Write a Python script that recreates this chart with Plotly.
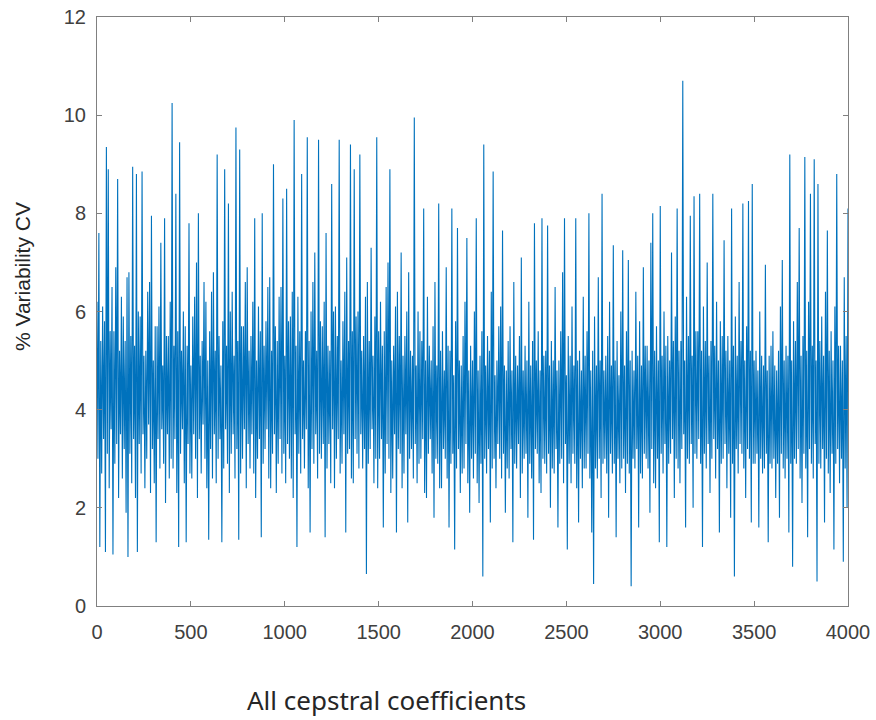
import plotly.graph_objects as go

# % Variability CV, split into the alternating
# upper swings (coefficients 0, 10, 20, ... 4000) and lower swings
# (coefficients 5, 15, 25, ... 3995). Rows of 20 = 200 coefficients.
cv_upper = [
    6.2, 7.6, 5.4, 6.1, 5.8, 9.35, 8.9, 5.6, 6.5, 5.6, 6.9, 8.7, 5.2, 6.3, 5.9, 5.4, 6.7, 6.8, 5.5, 8.95,
    5.3, 8.8, 6.0, 5.9, 8.85, 5.1, 5.2, 6.4, 6.6, 7.95, 5.0, 5.7, 5.7, 6.1, 7.4, 4.9, 7.9, 5.5, 5.5, 6.2,
    10.25, 5.3, 8.4, 5.6, 9.45, 5.2, 6.0, 5.7, 5.3, 7.8, 4.9, 5.9, 6.3, 7.0, 8.0, 5.1, 5.4, 6.6, 6.2, 5.0,
    5.6, 6.4, 6.8, 5.2, 9.2, 5.5, 4.9, 5.8, 8.9, 5.3, 8.2, 6.0, 6.4, 5.1, 9.75, 5.4, 9.3, 5.7, 5.7, 6.6,
    6.9, 5.2, 5.5, 6.2, 7.9, 5.0, 6.1, 5.6, 8.0, 5.3, 5.8, 6.5, 6.7, 5.2, 9.0, 5.7, 5.4, 6.3, 6.5, 8.3,
    5.1, 8.5, 5.8, 5.9, 6.4, 9.9, 5.3, 6.3, 5.6, 8.8, 5.0, 5.6, 9.55, 5.4, 6.0, 6.6, 7.2, 5.2, 9.5, 5.8,
    5.7, 6.2, 7.6, 5.3, 5.2, 8.6, 6.0, 6.1, 5.5, 9.5, 5.0, 5.8, 6.4, 7.1, 5.4, 9.4, 5.6, 8.9, 5.9, 6.0,
    9.2, 5.2, 5.5, 6.3, 6.6, 5.4, 7.3, 5.1, 5.9, 9.55, 5.6, 6.2, 5.3, 5.6, 6.5, 7.0, 8.9, 5.0, 5.3, 6.1,
    6.4, 5.5, 7.2, 5.1, 5.5, 6.0, 6.8, 5.2, 5.1, 9.95, 4.9, 6.0, 5.6, 5.4, 8.1, 5.0, 6.3, 5.3, 5.0, 5.7,
    6.6, 4.9, 8.2, 5.2, 5.6, 4.8, 6.9, 5.3, 5.2, 8.1, 4.7, 5.8, 7.7, 5.0, 4.9, 5.5, 6.2, 7.5, 4.8, 5.3,
    5.0, 6.0, 7.9, 4.8, 5.1, 5.6, 9.4, 4.9, 5.5, 5.2, 6.4, 8.85, 4.7, 5.0, 5.7, 6.1, 7.65, 4.9, 4.8, 5.4,
    5.7, 4.8, 6.6, 5.1, 4.9, 5.5, 7.1, 4.8, 5.3, 5.0, 6.2, 4.9, 5.4, 7.8, 5.0, 5.6, 4.8, 7.9, 5.1, 5.2,
    7.75, 4.9, 5.4, 5.0, 6.5, 4.8, 5.0, 5.6, 6.8, 7.9, 4.7, 5.5, 5.1, 6.1, 4.9, 7.9, 5.0, 5.2, 4.8, 6.3,
    5.1, 5.6, 8.0, 4.8, 5.2, 5.9, 4.9, 6.7, 5.0, 8.4, 4.8, 5.1, 5.5, 6.2, 4.9, 7.35, 5.0, 5.4, 4.7, 6.0,
    7.25, 4.9, 5.6, 7.05, 5.0, 5.2, 4.8, 6.4, 5.1, 5.8, 4.9, 6.9, 5.3, 5.3, 5.0, 7.4, 8.0, 5.2, 5.7, 5.0,
    8.15, 5.1, 6.0, 5.3, 5.5, 5.0, 7.2, 5.4, 5.9, 8.1, 5.2, 5.4, 10.7, 5.0, 6.3, 5.5, 7.95, 5.1, 8.35, 5.6,
    5.6, 8.4, 5.2, 6.1, 5.4, 7.0, 5.1, 5.4, 8.4, 5.3, 6.2, 5.0, 5.8, 5.5, 7.45, 5.2, 5.5, 5.0, 8.1, 5.3,
    5.9, 5.1, 6.6, 5.4, 8.2, 5.0, 5.7, 8.25, 5.2, 8.6, 5.0, 5.2, 4.8, 6.0, 5.1, 4.9, 6.95, 4.8, 5.1, 5.3,
    5.6, 4.9, 4.8, 5.2, 6.1, 7.05, 5.0, 5.3, 5.1, 9.2, 5.0, 5.8, 5.4, 6.6, 7.7, 5.1, 5.5, 9.15, 5.2, 6.2,
    8.4, 5.3, 9.1, 5.0, 8.6, 5.4, 5.9, 5.1, 6.4, 7.65, 5.2, 5.6, 5.0, 6.1, 8.8, 5.3, 5.3, 5.0, 6.7, 5.5,
    8.1,
]

cv_lower = [
    3.0, 1.2, 2.7, 3.4, 1.1, 3.1, 2.4, 3.6, 1.05, 2.9, 3.3, 2.2, 3.5, 2.6, 3.2, 1.9, 1.0, 3.1, 2.5, 3.4,
    2.2, 1.1, 3.3, 2.7, 3.5, 2.4, 3.0, 3.7, 2.3, 3.2, 2.5, 1.3, 3.4, 2.8, 3.6, 2.9, 2.1, 3.5, 2.6, 3.0,
    2.8, 3.4, 2.3, 1.2, 3.1, 3.6, 2.5, 1.3, 3.3, 2.7, 2.6, 3.5, 3.0, 2.2, 3.4, 2.7, 3.7, 3.0, 2.4, 1.35,
    3.2, 2.6, 3.5, 2.5, 3.0, 3.4, 1.3, 2.8, 3.6, 2.9, 2.3, 3.1, 3.5, 2.6, 3.2, 1.35, 2.7, 3.0, 3.6, 2.4,
    3.3, 2.8, 3.5, 2.7, 2.2, 3.0, 3.4, 1.4, 2.9, 3.2, 3.6, 2.6, 2.4, 3.1, 3.5, 2.3, 2.9, 3.4, 2.7, 3.1,
    2.5, 3.3, 3.0, 2.6, 2.2, 3.5, 1.2, 3.1, 2.7, 3.4, 2.8, 3.6, 2.4, 1.5, 3.2, 2.9, 3.5, 2.6, 3.1, 3.0,
    3.3, 1.4, 2.8, 3.3, 2.5, 3.6, 2.4, 3.0, 3.4, 2.7, 2.9, 3.5, 1.5, 3.1, 3.2, 2.6, 2.5, 3.4, 3.1, 2.8,
    3.5, 2.8, 3.2, 0.65, 2.9, 3.2, 3.6, 2.5, 3.0, 2.4, 3.0, 3.4, 1.6, 2.7, 3.3, 3.0, 2.3, 2.6, 3.5, 1.5,
    3.2, 3.1, 2.4, 2.7, 3.5, 1.7, 3.0, 3.2, 2.6, 3.3, 2.5, 2.9, 3.0, 3.4, 2.3, 2.2, 3.1, 3.4, 2.7, 1.8,
    3.0, 2.9, 2.4, 2.4, 3.2, 3.0, 2.6, 1.6, 2.9, 3.1, 1.15, 2.8, 3.2, 2.3, 2.7, 2.8, 3.3, 2.5, 1.9, 3.0,
    2.6, 3.1, 2.5, 2.1, 2.9, 0.6, 3.0, 2.7, 3.2, 1.7, 2.8, 3.0, 2.4, 3.3, 3.0, 2.6, 3.1, 1.9, 2.8, 2.6,
    3.2, 1.3, 2.9, 2.8, 3.3, 2.2, 2.7, 3.0, 3.1, 1.8, 2.9, 2.6, 1.35, 3.2, 3.1, 2.5, 2.3, 3.0, 2.9, 2.7,
    3.1, 2.0, 2.8, 2.7, 3.2, 1.6, 2.9, 3.0, 2.5, 3.3, 1.15, 2.9, 2.5, 3.1, 2.9, 2.4, 1.7, 3.0, 2.4, 2.8,
    2.8, 3.1, 2.6, 1.5, 0.45, 2.8, 2.6, 3.0, 2.2, 2.9, 3.0, 2.7, 1.8, 3.1, 2.7, 2.9, 1.4, 3.0, 2.5, 2.8,
    3.0, 2.3, 2.9, 2.7, 0.4, 3.0, 2.8, 3.2, 1.6, 2.7, 2.6, 3.1, 3.0, 2.8, 1.9, 3.2, 2.5, 2.4, 3.0, 1.3,
    3.1, 2.7, 3.3, 1.2, 2.9, 3.1, 3.4, 2.2, 3.0, 2.8, 2.5, 3.2, 3.5, 1.6, 3.0, 2.9, 3.3, 2.0, 3.1, 3.0,
    3.4, 2.9, 1.2, 3.1, 2.8, 3.3, 2.3, 3.0, 3.4, 2.6, 3.2, 1.5, 2.9, 3.0, 3.3, 2.4, 3.1, 1.8, 2.9, 0.6,
    3.2, 2.7, 3.3, 3.1, 2.8, 2.2, 3.2, 3.0, 1.7, 2.9, 2.9, 3.1, 1.6, 3.0, 2.7, 2.8, 3.1, 1.3, 2.9, 2.8,
    3.0, 2.2, 2.9, 1.8, 3.1, 2.8, 2.6, 3.0, 1.5, 2.9, 0.8, 3.0, 2.9, 3.2, 2.6, 2.1, 3.1, 2.8, 1.4, 3.2,
    2.9, 2.6, 3.3, 0.5, 2.9, 2.8, 3.2, 1.7, 3.0, 2.7, 2.3, 3.1, 1.15, 2.9, 3.2, 2.5, 3.0, 0.9, 2.8, 2.0,
]

x_ticks = [0, 500, 1000, 1500, 2000, 2500, 3000, 3500, 4000]
y_ticks = [0, 2, 4, 6, 8, 10, 12]
x_title = "All cepstral coefficients"
y_title = "% Variability CV"

# Put the two lists back into coefficient order (upper, lower, upper, ...)
coef_index, cv_values = [], []
for i, v in enumerate(cv_upper):
    coef_index.append(i * 10)
    cv_values.append(v)
    if i < len(cv_lower):
        coef_index.append(i * 10 + 5)
        cv_values.append(cv_lower[i])

fig = go.Figure()
fig.add_trace(go.Scatter(
    x=coef_index, y=cv_values, mode="lines",
    line=dict(color="#0072BD", width=1.1, simplify=False),
    hoverinfo="skip", showlegend=False,
))

axis_common = dict(
    showline=True, linecolor="#808080", linewidth=1, mirror="ticks",
    ticks="inside", ticklen=5, tickcolor="#808080", tickwidth=1,
    showgrid=False, zeroline=False, automargin=False,
    tickfont=dict(family="Liberation Sans, Arial, sans-serif", size=20, color="#404040"),
)

fig.update_layout(
    width=876, height=720,
    margin=dict(l=97, r=28, t=17, b=114),
    paper_bgcolor="white", plot_bgcolor="white",
    xaxis=dict(range=[0, 4000], tickvals=x_ticks, ticklabelstandoff=8, **axis_common),
    yaxis=dict(range=[0, 12], tickvals=y_ticks, ticklabelstandoff=6, **axis_common),
    annotations=[
        dict(text=x_title, xref="paper", yref="paper", x=0.386, y=-0.159,
             xanchor="center", yanchor="middle", showarrow=False,
             font=dict(family="Noto Sans, Open Sans, sans-serif", size=26, color="#262626")),
        dict(text=y_title, xref="paper", yref="paper", x=-0.100, y=0.560,
             xanchor="center", yanchor="middle", showarrow=False, textangle=-90,
             font=dict(family="Liberation Sans, Arial, sans-serif", size=21, color="#262626")),
    ],
)

fig.write_html("out.html", config={"displayModeBar": False},
               post_script="document.body.style.margin='0';")
